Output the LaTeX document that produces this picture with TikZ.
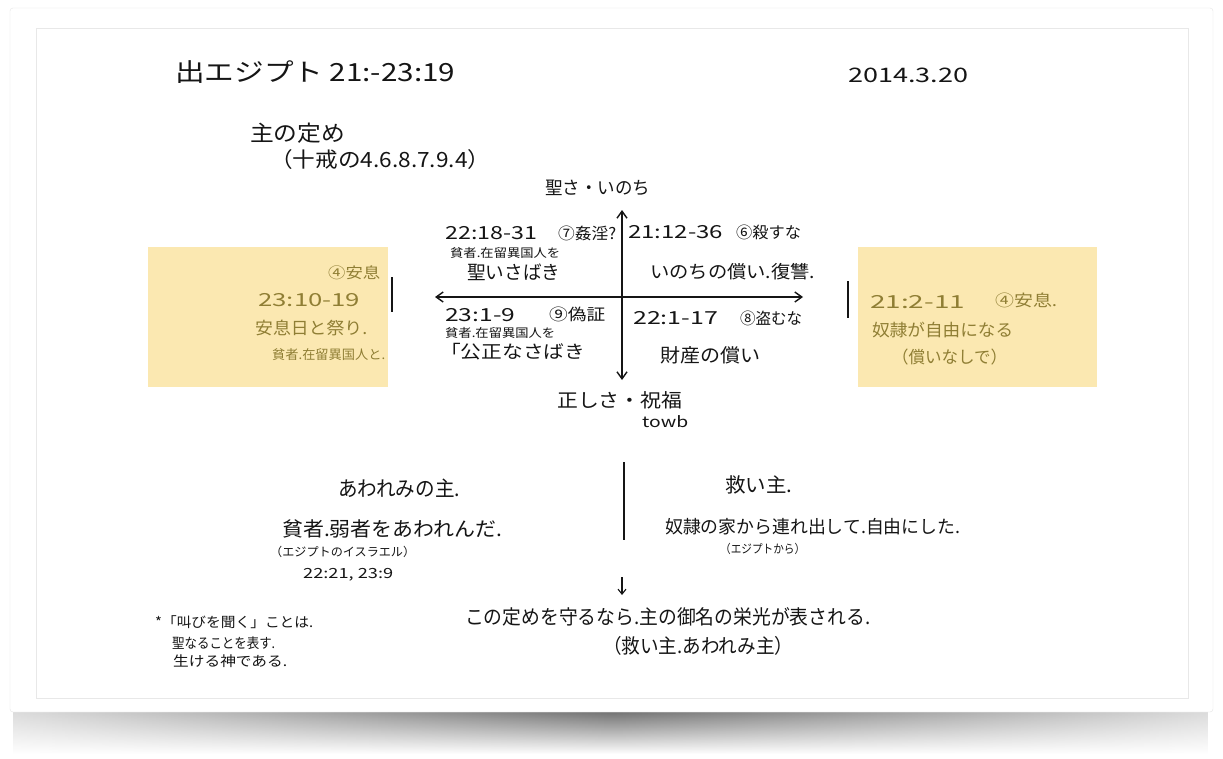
\documentclass[tikz,border=0pt]{standalone}
\usepackage{fontspec}
\usepackage{graphicx}
\setmainfont{Noto Sans CJK JP}
\usetikzlibrary{arrows.meta,fadings}
\definecolor{ink}{HTML}{151515}
\definecolor{note}{HTML}{FBE8B1}
\definecolor{notetext}{HTML}{8F7E34}
\newcommand\tx[3]{\resizebox{#1pt}{\height}{\fontsize{#2pt}{#2pt}\selectfont #3}}
\tikzfading[name=sidefade, left color=transparent!75, right color=transparent!75, middle color=transparent!0]
\tikzset{
  txt/.style={inner sep=0pt, anchor=west, text=ink},
  stk/.style={inner sep=0pt, anchor=west, text=notetext},
  axis/.style={draw=ink, line width=1.4pt, {Straight Barb[length=7pt,width=10pt]}-{Straight Barb[length=7pt,width=10pt]}},
  bar/.style={draw=ink, line width=1.5pt},
  sticky/.style={fill=note, draw=none},
}
\begin{document}
\begin{tikzpicture}[x=1pt,y=-1pt]
\useasboundingbox (0,0) rectangle (1223,758);
\fill[white] (0,0) rectangle (1223,758);
% shadow and card
\shade[top color=black!65, bottom color=white, path fading=sidefade] (14,704) rectangle (1209,754);
\fill[white, draw=black!10, rounded corners=3pt] (10,8) rectangle (1213,712);
\draw[black!9, line width=0.8pt] (36,28) rectangle (1188,698);

% title and date
\node[txt] (title) at (175,72) {\tx{280}{25}{出エジプト 21:-23:19}};
\node[txt] (date) at (848,75) {\tx{120}{20}{2014.3.20}};
\node[txt] (sadame) at (250,133) {\tx{95}{22}{主の定め}};
\node[txt] (jukai) at (270,160) {\tx{220}{21}{（十戒の4.6.8.7.9.4）}};

% axes
\coordinate (vt) at (622,210);
\coordinate (vb) at (622,380);
\coordinate (hl) at (435,297);
\coordinate (hr) at (803,297);
\draw[axis] (vb) -- (vt);
\draw[axis] (hl) -- (hr);
\node[txt] (top) at (545,188) {\tx{105}{18}{聖さ・いのち}};
\node[txt] (bottom) at (557,400) {\tx{125}{19}{正しさ・祝福}};
\node[txt] (towb) at (642,422) {\tx{46}{15}{towb}};

% top-left quadrant
\node[txt] (tl1) at (445,233) {\tx{92}{18}{22:18-31}};
\node[txt] (tl2) at (558,233) {\tx{58}{16}{⑦姦淫?}};
\node[txt] (tl3) at (450,253) {\tx{110}{12}{貧者.在留異国人を}};
\node[txt] (tl4) at (467,272) {\tx{93}{19}{聖いさばき}};
% top-right quadrant
\node[txt] (tr1) at (628,232) {\tx{95}{18}{21:12-36}};
\node[txt] (tr2) at (736,232) {\tx{65}{16}{⑥殺すな}};
\node[txt] (tr3) at (650,272) {\tx{165}{18}{いのちの償い.復讐.}};
% bottom-left quadrant
\node[txt] (bl1) at (445,315) {\tx{70}{18}{23:1-9}};
\node[txt] (bl2) at (549,314) {\tx{56}{16}{⑨偽証}};
\node[txt] (bl3) at (445,333) {\tx{110}{12}{貧者.在留異国人を}};
\node[txt] (bl4) at (440,352) {\tx{145}{18}{「公正なさばき}};
% bottom-right quadrant
\node[txt] (br1) at (633,318) {\tx{85}{18}{22:1-17}};
\node[txt] (br2) at (740,318) {\tx{62}{16}{⑧盗むな}};
\node[txt] (br3) at (660,355) {\tx{100}{19}{財産の償い}};

% left sticky note
\fill[sticky] (148,247) rectangle (388,387);
\node[stk] (ls1) at (328,273) {\tx{52}{15}{④安息}};
\node[stk] (ls2) at (258,300) {\tx{102}{18}{23:10-19}};
\node[stk] (ls3) at (255,328) {\tx{112}{17}{安息日と祭り.}};
\node[stk] (ls4) at (272,355) {\tx{113}{13}{貧者.在留異国人と.}};
\coordinate (lbt) at (392,277);
\coordinate (lbb) at (392,312);
\draw[bar] (lbt) -- (lbb);

% right sticky note
\fill[sticky] (858,247) rectangle (1097,387);
\node[stk] (rs1) at (870,302) {\tx{95}{18}{21:2-11}};
\node[stk] (rs2) at (995,300) {\tx{62}{16}{④安息.}};
\node[stk] (rs3) at (872,330) {\tx{141}{17}{奴隷が自由になる}};
\node[stk] (rs4) at (892,357) {\tx{115}{17}{（償いなしで）}};
\coordinate (rbt) at (848,281);
\coordinate (rbb) at (848,318);
\draw[bar] (rbt) -- (rbb);

% lower section
\coordinate (dvt) at (624,462);
\coordinate (dvb) at (624,540);
\draw[bar, line width=1.2pt] (dvt) -- (dvb);
\node[txt] (aw1) at (338,488) {\tx{122}{21}{あわれみの主.}};
\node[txt] (aw2) at (282,529) {\tx{220}{20}{貧者.弱者をあわれんだ.}};
\node[txt] (aw3) at (270,552) {\tx{145}{12}{（エジプトのイスラエル）}};
\node[txt] (aw4) at (303,575) {\tx{90}{14}{22:21, 23:9}};
\node[txt] (sk1) at (725,485) {\tx{67}{20}{救い主.}};
\node[txt] (sk2) at (665,527) {\tx{295}{18}{奴隷の家から連れ出して.自由にした.}};
\node[txt] (sk3) at (720,549) {\tx{85}{12}{（エジプトから）}};

\coordinate (sat) at (622,577);
\coordinate (sab) at (622,595);
\draw[draw=ink, line width=1.1pt, -{Straight Barb[length=5pt,width=8pt]}] (sat) -- (sab);
\node[txt] (c1) at (465,617) {\tx{405}{20}{この定めを守るなら.主の御名の栄光が表される.}};
\node[txt] (c2) at (603,646) {\tx{190}{20}{（救い主.あわれみ主）}};

% footnote
\node[txt] (f1) at (155,622) {\tx{158}{14}{*「叫びを聞く」ことは.}};
\node[txt] (f2) at (172,643) {\tx{103}{14}{聖なることを表す.}};
\node[txt] (f3) at (173,661) {\tx{114}{14}{生ける神である.}};
\end{tikzpicture}
\end{document}
